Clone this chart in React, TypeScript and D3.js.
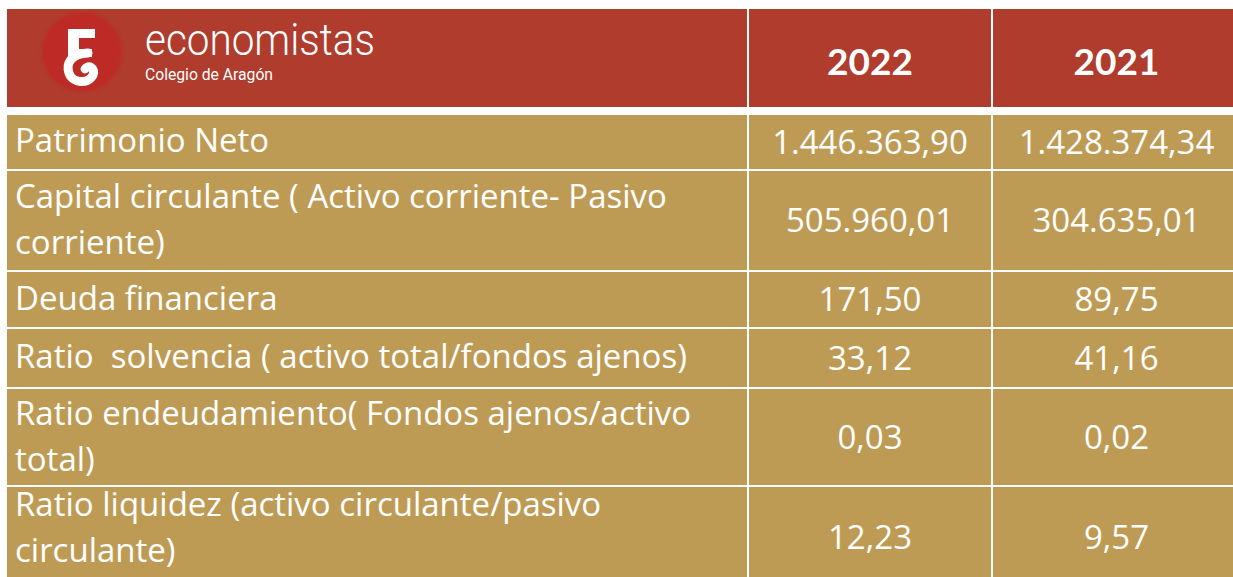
import React from "react";
import * as d3 from "d3";

const years = ["2022", "2021"];
const labels: string[][] = [
  ["Patrimonio Neto"],
  ["Capital circulante ( Activo corriente- Pasivo", "corriente)"],
  ["Deuda financiera"],
  ["Ratio  solvencia ( activo total/fondos ajenos)"],
  ["Ratio endeudamiento( Fondos ajenos/activo", "total)"],
  ["Ratio liquidez (activo circulante/pasivo", "circulante)"],
];
const values2022 = ["1.446.363,90", "505.960,01", "171,50", "33,12", "0,03", "12,23"];
const values2021 = ["1.428.374,34", "304.635,01", "89,75", "41,16", "0,02", "9,57"];
const brandName = "economistas";
const brandSub = "Colegio de Aragón";

const W = 1233;
const H = 577;
const RED = "#AF3C2D";
const TAN = "#BE9B55";
const FONT = "'Open Sans', Lato, sans-serif";

// layout
const rowTops = [115, 171, 272, 329, 389, 487];
const rowBottoms = [169, 270, 327, 387, 485, 590];
const labelShift = [0, 0, 0, 0, 1, -8.5];
const colEdges = [7, 747, 749, 991, 993, 1240];

export default function App() {
  const cols = [
    { x0: colEdges[0], x1: colEdges[1] },
    { x0: colEdges[2], x1: colEdges[3] },
    { x0: colEdges[4], x1: colEdges[5] },
  ];
  const colCenter = (i: number) => (cols[i].x0 + cols[i].x1) / 2;
  const yearVals = [values2022, values2021];
  const lineGap = 46;

  return (
    <svg
      width={W}
      height={H}
      style={{ position: "absolute", left: 0, top: 0, background: "#fff" }}
    >
      <defs>
        <filter id="blur" x="-20%" y="-20%" width="140%" height="140%">
          <feGaussianBlur stdDeviation="1.5" />
        </filter>
      </defs>
      {/* header */}
      {cols.map((c, i) => (
        <rect key={"h" + i} x={c.x0} y={9} width={c.x1 - c.x0} height={98} fill={RED} />
      ))}
      {/* logo */}
      <circle cx={82} cy={52} r={40} fill="#BE2B27" filter="url(#blur)" />
      <g fill="#fff">
        <rect x={68} y={29} width={27} height={9} />
        <rect x={68} y={29} width={11} height={27} />
        <rect x={68} y={49} width={24} height={8} />
      </g>
      <path
        d="M 88 53 C 70 54, 66 64, 69 73 C 72 83, 88 85, 93 75 C 96 68, 88 64, 85 69"
        fill="none"
        stroke="#fff"
        strokeWidth={9}
        strokeLinecap="round"
      />
      <text
        x={145}
        y={55}
        fill="#fff"
        fontFamily="Roboto, 'Liberation Sans', sans-serif"
        fontWeight={300}
        fontSize={44}
        textLength={230}
        lengthAdjust="spacingAndGlyphs"
      >
        {brandName}
      </text>
      <text
        x={145}
        y={80}
        fill="#fff"
        fontFamily="Roboto, 'Liberation Sans', sans-serif"
        fontSize={16}
        textLength={128}
        lengthAdjust="spacingAndGlyphs"
      >
        {brandSub}
      </text>
      {years.map((yr, i) => (
        <text
          key={yr}
          x={colCenter(i + 1)}
          y={75}
          textAnchor="middle"
          fill="#fff"
          fontFamily="Lato, sans-serif"
          fontWeight={700}
          fontSize={37}
        >
          {yr}
        </text>
      ))}
      {/* body */}
      {labels.map((lines, r) => {
        const top = rowTops[r];
        const bot = rowBottoms[r];
        const cy = (top + Math.min(bot, 587)) / 2;
        const n = lines.length;
        return (
          <g key={"r" + r}>
            {cols.map((c, i) => (
              <rect key={i} x={c.x0} y={top} width={c.x1 - c.x0} height={bot - top} fill={TAN} />
            ))}
            {lines.map((ln, k) => (
              <text
                key={k}
                x={15}
                y={cy + 10 + labelShift[r] + (k - (n - 1) / 2) * lineGap}
                fill="#fff"
                fontFamily={FONT}
                fontSize={33}
                style={{ whiteSpace: "pre" }}
              >
                {ln}
              </text>
            ))}
            {yearVals.map((vals, i) => (
              <text
                key={"v" + i}
                x={colCenter(i + 1)}
                y={cy + 11.5}
                textAnchor="middle"
                fill="#fff"
                fontFamily={FONT}
                fontSize={33}
              >
                {vals[r]}
              </text>
            ))}
          </g>
        );
      })}
    </svg>
  );
}
